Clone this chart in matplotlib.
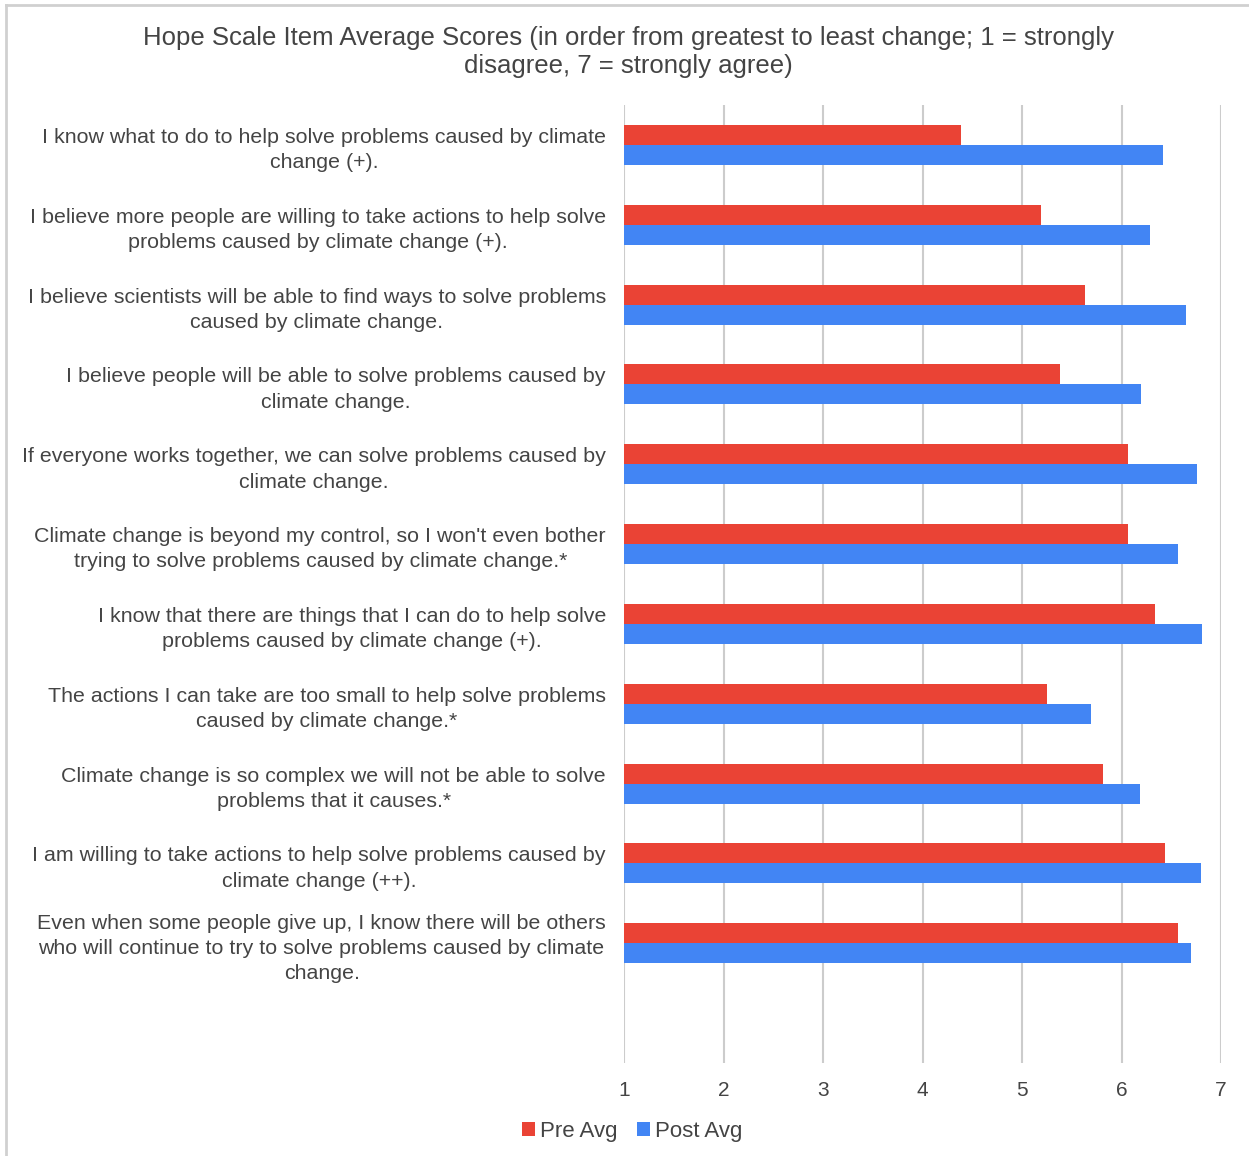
import matplotlib.pyplot as plt
from matplotlib.lines import Line2D
from matplotlib.transforms import ScaledTranslation

plt.rcParams['font.family'] = ['Liberation Sans', 'DejaVu Sans']

# Items, top to bottom
Items = [
    "I know what to do to help solve problems caused by climate\nchange (+).",
    "I believe more people are willing to take actions to help solve\nproblems caused by climate change (+).",
    "I believe scientists will be able to find ways to solve problems\ncaused by climate change.",
    "I believe people will be able to solve problems caused by\nclimate change.",
    "If everyone works together, we can solve problems caused by\nclimate change.",
    "Climate change is beyond my control, so I won't even bother\ntrying to solve problems caused by climate change.*",
    "I know that there are things that I can do to help solve\nproblems caused by climate change (+).",
    "The actions I can take are too small to help solve problems\ncaused by climate change.*",
    "Climate change is so complex we will not be able to solve\nproblems that it causes.*",
    "I am willing to take actions to help solve problems caused by\nclimate change (++).",
    "Even when some people give up, I know there will be others\nwho will continue to try to solve problems caused by climate\nchange.",
]
PreAvg = [4.39, 5.19, 5.63, 5.38, 6.07, 6.07, 6.34, 5.25, 5.81, 6.44, 6.57]
PostAvg = [6.42, 6.29, 6.65, 6.20, 6.76, 6.57, 6.81, 5.69, 6.19, 6.80, 6.70]
Ticks = [1, 2, 3, 4, 5, 6, 7]

RED = '#EA4335'
BLUE = '#4285F4'
TXT = '#444444'

fig = plt.figure(figsize=(12.49, 11.56), dpi=100)
ax = fig.add_axes([0.4996, 0.0804, 0.478, 0.8288])

ypos = list(range(len(Items)))
h = 0.25
ax.barh([y - h / 2 for y in ypos], [v - 1 for v in PreAvg], left=1, height=h,
        color=RED, label='Pre Avg', zorder=3)
ax.barh([y + h / 2 for y in ypos], [v - 1 for v in PostAvg], left=1, height=h,
        color=BLUE, label='Post Avg', zorder=3)

ax.set_xlim(1, 7)
ax.set_ylim(11.5, -0.5)
ax.set_xticks(Ticks)
ax.set_xticklabels([str(t) for t in Ticks], fontsize=15, color=TXT)
ax.set_yticks(ypos)
ax.set_yticklabels(Items, fontsize=15.4, color=TXT)
shift = ScaledTranslation(0, 3 / 100, fig.dpi_scale_trans)
for lab in ax.get_yticklabels():
    lab.set_multialignment('center')
    lab.set_linespacing(1.42)
    lab.set_transform(lab.get_transform() + shift)
ax.tick_params(axis='both', length=0)
ax.tick_params(axis='y', pad=13)
ax.tick_params(axis='x', pad=13)
ax.grid(axis='x', color='#cccccc', linewidth=1.5, zorder=0)
for s in ax.spines.values():
    s.set_visible(False)

fig.text(0.503, 0.955, "Hope Scale Item Average Scores (in order from greatest to least change; 1 = strongly\ndisagree, 7 = strongly agree)",
         ha='center', va='center', fontsize=18.5, color=TXT, linespacing=1.23)

fig.legend(loc='center', bbox_to_anchor=(0.506, 0.0216), ncol=2, frameon=False,
           fontsize=16, labelcolor=TXT, handlelength=0.6, handleheight=0.6,
           handletextpad=0.2, columnspacing=0.9)

# light frame at top and left
fig.add_artist(Line2D([0.005, 0.005], [0, 0.996], color='#d0d0d0', linewidth=2, transform=fig.transFigure))
fig.add_artist(Line2D([0.005, 1], [0.996, 0.996], color='#d0d0d0', linewidth=2, transform=fig.transFigure))

fig.savefig('out.png', dpi=100)
